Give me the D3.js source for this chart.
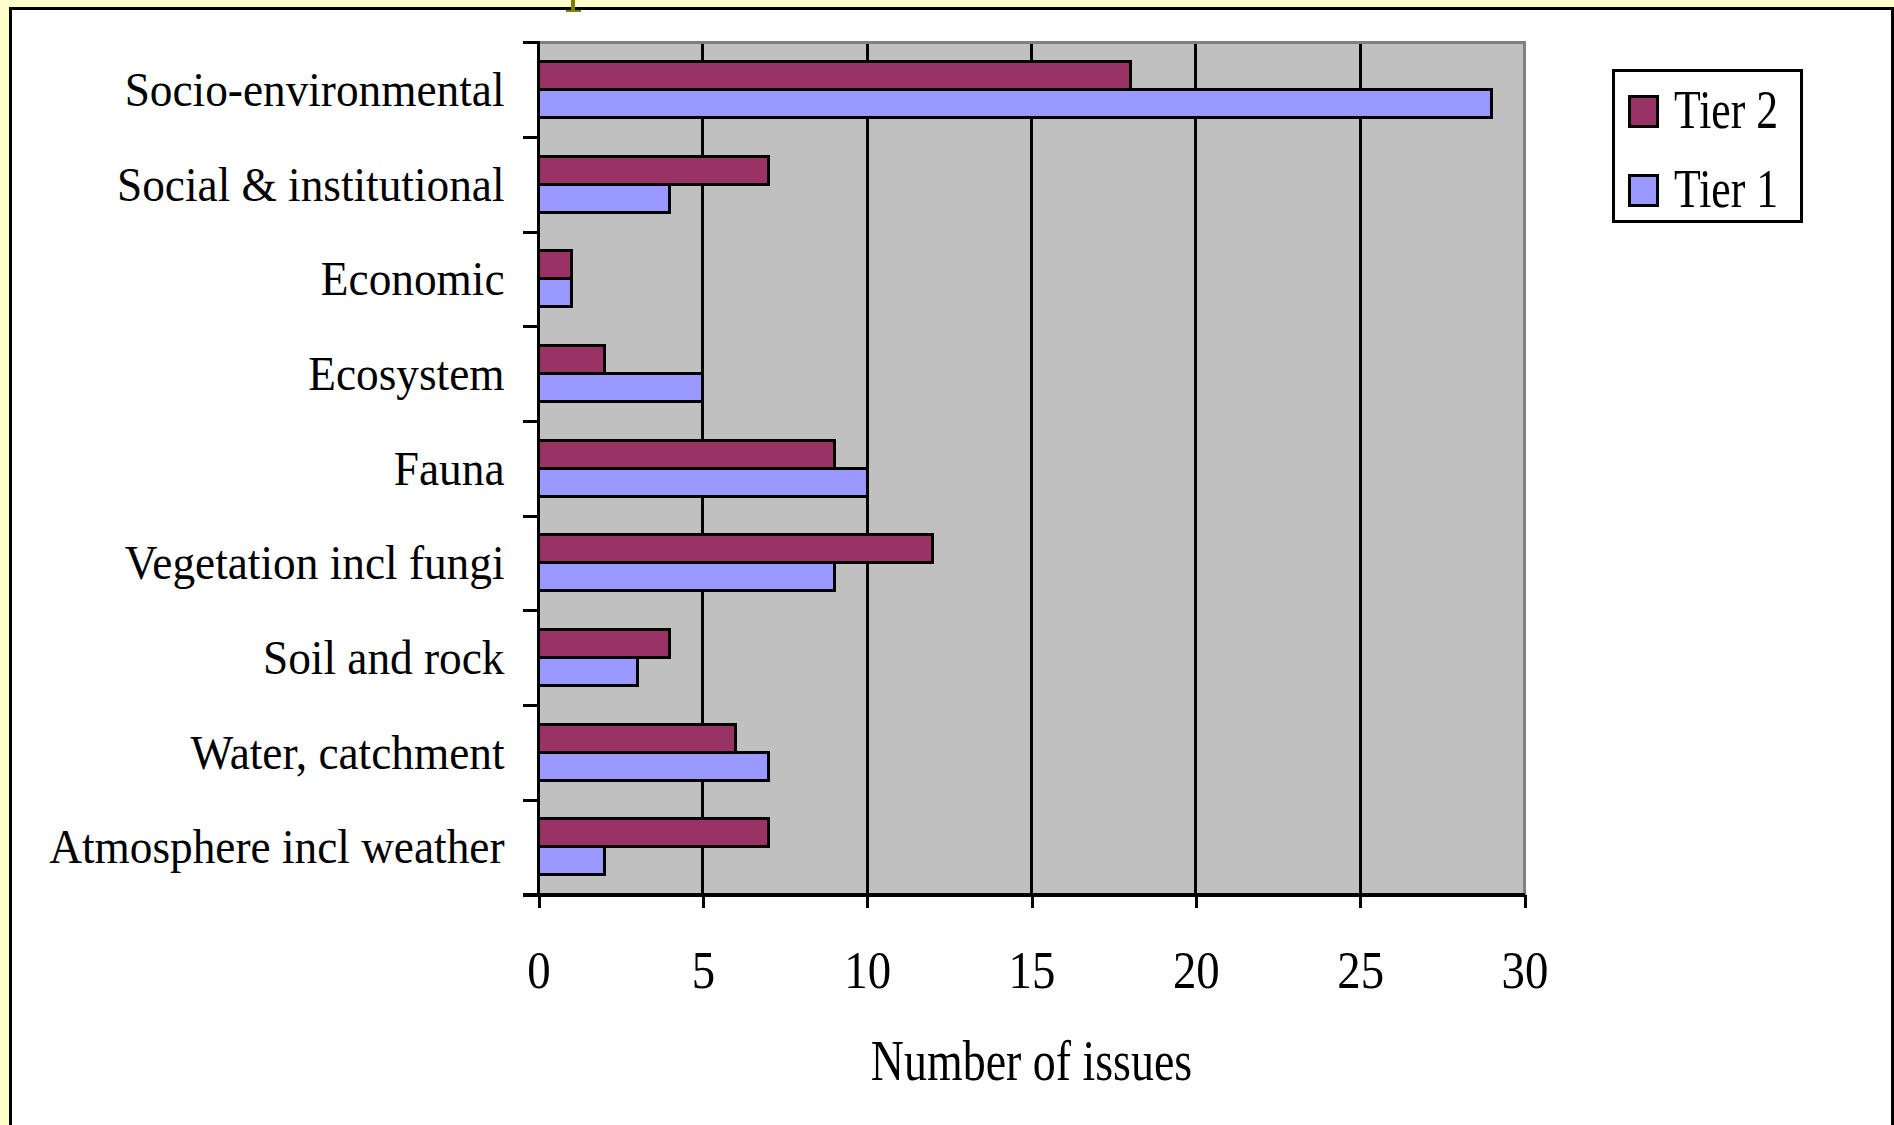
<!DOCTYPE html>
<html>
<head>
<meta charset="utf-8">
<script src="https://cdn.jsdelivr.net/npm/d3@7"></script>
<style>
  html, body { margin: 0; padding: 0; background: #ffffff; }
  svg { display: block; }
  rect, line { shape-rendering: crispEdges; }
  text { font-family: "Liberation Serif", "Times New Roman", serif; fill: #000; }
</style>
</head>
<body>
<svg id="chart" width="1894" height="1125"></svg>
<script>
// ---- data ----
const categories = [
  "Socio-environmental",
  "Social & institutional",
  "Economic",
  "Ecosystem",
  "Fauna",
  "Vegetation incl fungi",
  "Soil and rock",
  "Water, catchment",
  "Atmosphere incl weather"
];
const seriesNames = ["Tier 2", "Tier 1"];
const tier2Values = [18, 7, 1, 2, 9, 12, 4, 6, 7];
const tier1Values = [29, 4, 1, 5, 10, 9, 3, 7, 2];
const xTicks = [0, 5, 10, 15, 20, 25, 30];
const xTitle = "Number of issues";
const seriesColors = ["#993366", "#9999FF"];

const rows = categories.map((c, i) => ({
  category: c,
  values: [
    { series: seriesNames[0], value: tier2Values[i] },
    { series: seriesNames[1], value: tier1Values[i] }
  ]
}));

const svg = d3.select("#chart");
const W = 1894, H = 1125;

// outer frame
svg.append("rect").attr("x", 0).attr("y", 0).attr("width", W).attr("height", H).attr("fill", "#FFFFCC");
svg.append("rect").attr("x", 10.5).attr("y", 8).attr("width", W - 12).attr("height", H + 10)
  .attr("fill", "#ffffff").attr("stroke", "#000").attr("stroke-width", 3);
// small olive glyph fragment at top
svg.append("rect").attr("x", 571).attr("y", 0).attr("width", 4).attr("height", 11).attr("fill", "#808000");
svg.append("rect").attr("x", 566).attr("y", 10).attr("width", 15).attr("height", 2).attr("fill", "#808000");

// plot area
const plot = { left: 538.5, right: 1524.5, top: 42.7, bottom: 894.7 };

const x = d3.scaleLinear().domain([0, 30]).range([plot.left, plot.right]);
const y = d3.scaleBand().domain(categories).range([plot.top, plot.bottom]).padding(0);
const step = y.bandwidth();
const yInner = d3.scaleBand().domain(seriesNames).range([step * 0.2, step * 0.79]).padding(0);
const color = d3.scaleOrdinal().domain(seriesNames).range(seriesColors);

svg.append("rect")
  .attr("x", plot.left).attr("y", plot.top)
  .attr("width", plot.right - plot.left).attr("height", plot.bottom - plot.top)
  .attr("fill", "#C0C0C0");

// gridlines
svg.append("g").selectAll("line")
  .data(xTicks.filter(t => t > 0 && t < 30))
  .join("line")
  .attr("x1", d => x(d)).attr("x2", d => x(d))
  .attr("y1", plot.top).attr("y2", plot.bottom)
  .attr("stroke", "#000").attr("stroke-width", 3);

// plot top and right borders (gray)
svg.append("line").attr("x1", plot.left).attr("x2", plot.right + 1.5)
  .attr("y1", plot.top).attr("y2", plot.top).attr("stroke", "#808080").attr("stroke-width", 3);
svg.append("line").attr("x1", x(30)).attr("x2", x(30))
  .attr("y1", plot.top).attr("y2", plot.bottom).attr("stroke", "#808080").attr("stroke-width", 3);

// bars
const groups = svg.append("g").selectAll("g")
  .data(rows).join("g")
  .attr("transform", d => `translate(0,${y(d.category)})`);
groups.selectAll("rect")
  .data(d => d.values).join("rect")
  .attr("x", x(0))
  .attr("y", d => yInner(d.series))
  .attr("width", d => x(d.value) - x(0))
  .attr("height", yInner.bandwidth())
  .attr("fill", d => color(d.series))
  .attr("stroke", "#000").attr("stroke-width", 3);

// x axis
const xAxis = d3.axisBottom(x).tickValues(xTicks).tickSize(13).tickSizeOuter(0);
const gx = svg.append("g").attr("transform", `translate(0,${plot.bottom})`).call(xAxis);
gx.select(".domain").remove();
gx.selectAll(".tick line").attr("stroke", "#000").attr("stroke-width", 3);
gx.selectAll(".tick text")
  .attr("y", 93).attr("dy", 0)
  .attr("font-size", 52)
  .attr("font-family", "Liberation Serif, serif")
  .attr("fill", "#000")
  .attr("transform", "scale(0.9,1)");

// y axis: ticks at band boundaries
const boundaries = categories.map(c => y(c)).concat([plot.bottom]);
svg.append("g").selectAll("line")
  .data(boundaries).join("line")
  .attr("x1", plot.left - 16).attr("x2", plot.left)
  .attr("y1", d => d).attr("y2", d => d)
  .attr("stroke", "#000").attr("stroke-width", 3);

// y labels
const yAxis = d3.axisLeft(y).tickSize(0).tickPadding(0);
const gy = svg.append("g").attr("transform", `translate(${plot.left},0)`).call(yAxis);
gy.select(".domain").remove();
gy.selectAll(".tick text")
  .attr("x", 0).attr("dy", 0).attr("y", 16)
  .attr("font-size", 48)
  .attr("font-family", "Liberation Serif, serif")
  .attr("fill", "#000")
  .attr("text-anchor", "end")
  .attr("transform", "translate(-34,0) scale(0.944,1)");

// axis lines
svg.append("line").attr("x1", plot.left).attr("x2", plot.left)
  .attr("y1", plot.top - 1.5).attr("y2", plot.bottom + 2)
  .attr("stroke", "#000").attr("stroke-width", 3.5);
svg.append("line").attr("x1", plot.left - 16).attr("x2", plot.right)
  .attr("y1", plot.bottom).attr("y2", plot.bottom)
  .attr("stroke", "#000").attr("stroke-width", 4);

// x title
svg.append("text")
  .attr("transform", `translate(${(plot.left + plot.right) / 2},1080) scale(0.82,1)`)
  .attr("text-anchor", "middle")
  .attr("font-size", 56)
  .text(xTitle);

// legend (Tier 2 first, then Tier 1)
const legend = svg.append("g");
legend.append("rect").attr("x", 1613.5).attr("y", 70.5).attr("width", 188).attr("height", 151)
  .attr("fill", "#fff").attr("stroke", "#000").attr("stroke-width", 3);
const legendY = d3.scalePoint().domain(seriesNames).range([111.5, 190.5]);
const li = legend.selectAll("g.item").data(seriesNames).join("g").attr("class", "item")
  .attr("transform", d => `translate(0,${legendY(d)})`);
li.append("rect").attr("x", 1629.5).attr("y", -15).attr("width", 28).attr("height", 30)
  .attr("fill", d => color(d)).attr("stroke", "#000").attr("stroke-width", 3);
li.append("text")
  .attr("transform", "translate(1674,16) scale(0.81,1)")
  .attr("font-size", 54)
  .text(d => d);
</script>
</body>
</html>
